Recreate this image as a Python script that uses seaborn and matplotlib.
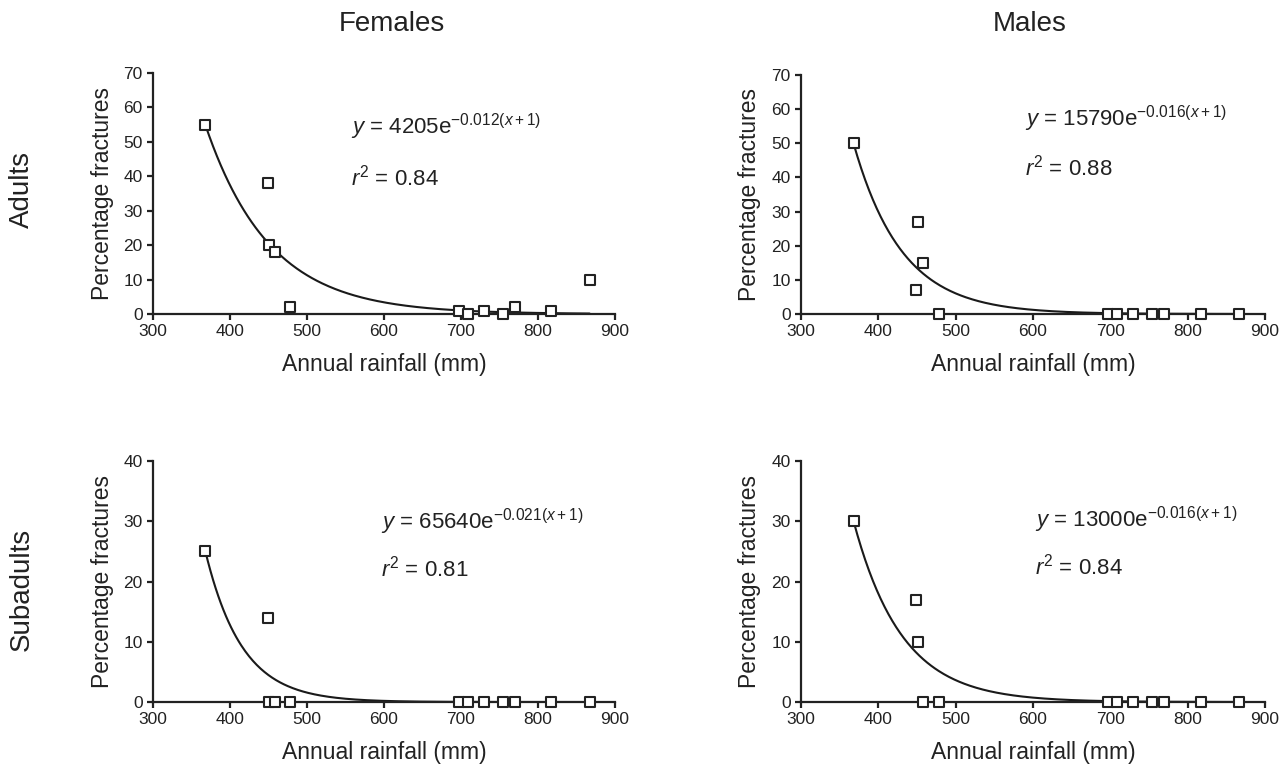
import numpy as np
import pandas as pd
import matplotlib
matplotlib.use("Agg")
import matplotlib.pyplot as plt
import seaborn as sns

# ==========================================
# data
# ==========================================
rainfall = [368, 449, 451, 458, 478, 697, 709, 730, 754, 770, 817, 867]

female_adults = [55, 38, 20, 18, 2, 1, 0, 1, 0, 2, 1, 10]
male_adults = [50, 7, 27, 15, 0, 0, 0, 0, 0, 0, 0, 0]
female_subadults = [25, 14, 0, 0, 0, 0, 0, 0, 0, 0, 0, 0]
male_subadults = [30, 17, 10, 0, 0, 0, 0, 0, 0, 0, 0, 0]

# fitted curves y = A * exp(-k (x + 1)), A as drawn in the figure
curve_A = [4600, 18300, 58000, 11000]
curve_k = [0.012, 0.016, 0.021, 0.016]

equations = [
    r"$y$ = 4205e$^{-0.012(x+1)}$",
    r"$y$ = 15790e$^{-0.016(x+1)}$",
    r"$y$ = 65640e$^{-0.021(x+1)}$",
    r"$y$ = 13000e$^{-0.016(x+1)}$",
]
r_squared = ["0.84", "0.88", "0.81", "0.84"]

col_titles = ["Females", "Males"]
row_titles = ["Adults", "Subadults"]
y_max = [70, 40]
# ==========================================

sns.set_theme(style="ticks")
plt.rcParams["font.family"] = ["Liberation Sans", "DejaVu Sans"]
plt.rcParams["mathtext.fontset"] = "custom"
plt.rcParams["mathtext.rm"] = "Liberation Sans"
plt.rcParams["mathtext.it"] = "Liberation Sans:italic"
plt.rcParams["axes.linewidth"] = 1.6
plt.rcParams["xtick.major.width"] = 1.6
plt.rcParams["ytick.major.width"] = 1.6
plt.rcParams["xtick.major.size"] = 4.5
plt.rcParams["ytick.major.size"] = 4.5
plt.rcParams["xtick.color"] = "#222222"
plt.rcParams["ytick.color"] = "#222222"
plt.rcParams["axes.edgecolor"] = "#222222"

fig = plt.figure(figsize=(12.88, 7.67), dpi=100)

# axes rectangles (figure fraction): TL, TR, BL, BR
rects = [
    [0.1188, 0.5906, 0.3587, 0.3142],
    [0.6219, 0.5906, 0.3602, 0.3116],
    [0.1188, 0.0847, 0.3587, 0.3142],
    [0.6219, 0.0847, 0.3602, 0.3142],
]
# equation text positions (data coords): x, y of equation, y of r^2
text_pos = [
    (557, 52.3, 37.2),
    (590, 54.9, 40.7),
    (596, 28.7, 20.8),
    (603, 29.1, 21.2),
]

series = [female_adults, male_adults, female_subadults, male_subadults]

for i, values in enumerate(series):
    ax = fig.add_axes(rects[i])
    df = pd.DataFrame({"rainfall": rainfall, "fractures": values})

    # fitted exponential curve
    xs = np.linspace(min(rainfall), max(rainfall), 300)
    fit = pd.DataFrame({"x": xs, "y": curve_A[i] * np.exp(-curve_k[i] * (xs + 1))})
    sns.lineplot(data=fit, x="x", y="y", ax=ax, color="#1a1a1a", linewidth=1.5)

    sns.scatterplot(data=df, x="rainfall", y="fractures", ax=ax, marker="s",
                    s=48, facecolor="white", edgecolor="#222222",
                    linewidth=1.5, clip_on=False, zorder=5)

    ymax = y_max[i // 2]
    ax.set_xlim(300, 900)
    ax.set_ylim(0, ymax)
    ax.set_xticks(range(300, 901, 100))
    ax.set_yticks(range(0, ymax + 1, 10))
    ax.tick_params(labelsize=12.5, pad=3)
    sns.despine(ax=ax)

    ax.set_xlabel("Annual rainfall (mm)", fontsize=16.5, labelpad=10, color="#222222")
    ax.set_ylabel("Percentage fractures", fontsize=16.5, labelpad=7, color="#222222")

    tx, ty, tr = text_pos[i]
    ax.text(tx, ty, equations[i], fontsize=16, va="baseline", color="#222222")
    ax.text(tx, tr, r"$r^2$ = " + r_squared[i], fontsize=16, va="baseline", color="#222222")

# column and row headings
fig.text(392 / 1288, 1 - 24 / 767, col_titles[0], fontsize=20, ha="center", va="center", color="#222222")
fig.text(1030 / 1288, 1 - 24 / 767, col_titles[1], fontsize=20, ha="center", va="center", color="#222222")
fig.text(22 / 1288, 1 - 189 / 767, row_titles[0], fontsize=20, rotation=90, ha="center", va="center", color="#222222")
fig.text(22 / 1288, 1 - 589 / 767, row_titles[1], fontsize=20, rotation=90, ha="center", va="center", color="#222222")

fig.savefig("out.png", dpi=100, facecolor="white")
